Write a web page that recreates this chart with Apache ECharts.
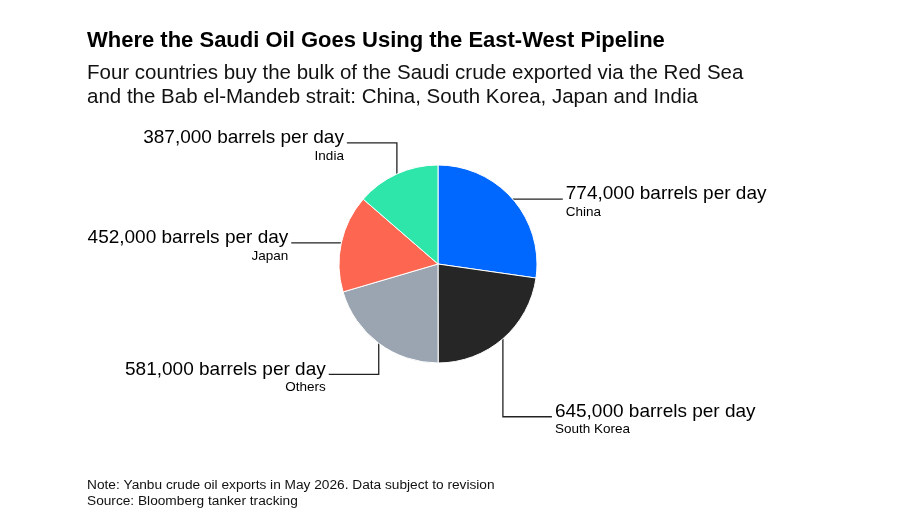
<!DOCTYPE html>
<html lang="en">
  <head>
    <meta charset="UTF-8" />
    <title>Saudi East-West Pipeline</title>
    <script src="https://cdn.jsdelivr.net/npm/echarts@6/dist/echarts.min.js"></script>
    <style>
      body { margin: 0; background: #fff; }
    </style>
  </head>
  <body>
    <div id="main" style="width: 922px; height: 523px"></div>
    <script type="text/javascript">
      // data
      const categories = ["China", "South Korea", "Others", "Japan", "India"];
      const barrels = [774000, 645000, 581000, 452000, 387000];
      const colors = ["#0068ff", "#262626", "#9aa5b1", "#fd6650", "#2ee6a9"];

      // leader line shape per slice: [vertical run, horizontal run]
      const leaders = [[0, 50], [78, 49], [31, 50], [0, 50], [-31, 50]];

      const cx = 438, cy = 264, R = 99;
      const font = "Liberation Sans";

      const total = barrels.reduce((a, b) => a + b, 0);
      let acc = 0;
      const midAngles = barrels.map((v) => {
        const m = ((acc + v / 2) / total) * Math.PI * 2;
        acc += v;
        return m;
      });

      const myChart = echarts.init(document.getElementById("main"));

      const options = {
        animation: false,
        title: [
          {
            text: "Where the Saudi Oil Goes Using the East-West Pipeline",
            left: 87,
            top: 30,
            padding: 0,
            textStyle: { fontFamily: font, fontSize: 22, fontWeight: "bold", color: "#000" },
          },
          {
            text:
              "Four countries buy the bulk of the Saudi crude exported via the Red Sea\nand the Bab el-Mandeb strait: China, South Korea, Japan and India",
            left: 87,
            top: 61,
            padding: 0,
            textStyle: { fontFamily: font, fontSize: 20.5, fontWeight: "normal", lineHeight: 24.5, color: "#111" },
          },
          {
            text: "Note: Yanbu crude oil exports in May 2026. Data subject to revision\nSource: Bloomberg tanker tracking",
            left: 87,
            top: 477,
            padding: 0,
            textStyle: { fontFamily: font, fontSize: 13.7, fontWeight: "normal", lineHeight: 16, color: "#111" },
          },
        ],
        series: [
          {
            type: "pie",
            center: [cx, cy],
            radius: R,
            startAngle: 90,
            clockwise: true,
            avoidLabelOverlap: false,
            itemStyle: { borderColor: "#fff", borderWidth: 1 },
            emphasis: { disabled: true },
            data: categories.map((c, i) => ({
              name: c,
              value: barrels[i],
              itemStyle: { color: colors[i] },
            })),
            label: {
              show: true,
              position: "outside",
              formatter: (p) => "{v|" + p.value.toLocaleString("en-US") + " barrels per day}\n{n|" + p.name + "}",
              rich: {
                v: { fontFamily: font, fontSize: 19, lineHeight: 20, color: "#000" },
                n: { fontFamily: font, fontSize: 13.5, lineHeight: 16, color: "#000" },
              },
            },
            labelLine: {
              show: true,
              lineStyle: { color: "#222", width: 1.3 },
            },
            labelLayout: function (params) {
              const i = params.dataIndex;
              const mid = midAngles[i];
              const sx = cx + R * Math.sin(mid);
              const sy = cy - R * Math.cos(mid);
              const right = Math.sin(mid) > 0;
              const dir = right ? 1 : -1;
              const dv = leaders[i][0], dh = leaders[i][1];
              const p1 = [sx, sy + dv];
              const p2 = [sx + dir * dh, sy + dv];
              return {
                x: p2[0] + dir * 3,
                y: p2[1] - 15,
                align: right ? "left" : "right",
                verticalAlign: "top",
                labelLinePoints: dv ? [[sx, sy], p1, p2] : [[sx, sy], p2],
              };
            },
          },
        ],
      };

      myChart.setOption(options);
    </script>
  </body>
</html>
